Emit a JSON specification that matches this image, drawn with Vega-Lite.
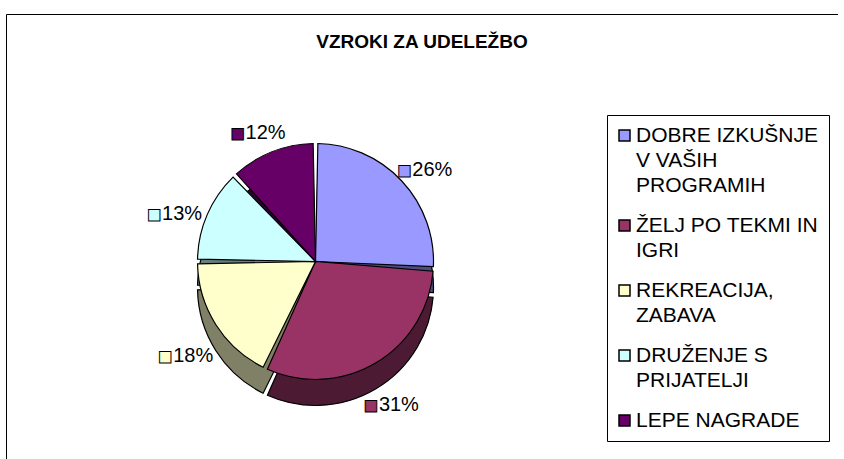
{
  "$schema": "https://vega.github.io/schema/vega-lite/v6.json",
  "width": 832,
  "height": 450,
  "autosize": {"type": "none"},
  "padding": {"left": 6, "top": 14, "right": 0, "bottom": 0},
  "background": "#ffffff",
  "view": {"stroke": "#000000", "strokeWidth": 1},
  "title": {"text": "VZROKI ZA UDELEŽBO", "font": "Liberation Sans", "fontSize": 19, "fontWeight": "bold", "color": "#000000", "offset": -38, "anchor": "middle"},
  "data": {
    "values": [
      {"k": "DOBRE IZKUŠNJE V VAŠIH PROGRAMIH", "v": 26, "o": 1, "lab": "26%"},
      {"k": "ŽELJ PO TEKMI IN IGRI", "v": 31, "o": 2, "lab": "31%"},
      {"k": "REKREACIJA, ZABAVA", "v": 18, "o": 3, "lab": "18%"},
      {"k": "DRUŽENJE S PRIJATELJI", "v": 13, "o": 4, "lab": "13%"},
      {"k": "LEPE NAGRADE", "v": 12, "o": 5, "lab": "12%"}
    ]
  },
  "layer": [
    {
      "mark": {"type": "arc", "outerRadius": 118, "padAngle": 0.04, "stroke": "#000000", "strokeWidth": 1.2, "x": {"expr": "width*0.372"}, "y": {"expr": "height*0.55+26"}},
      "encoding": {
        "theta": {"field": "v", "type": "quantitative", "stack": true},
        "order": {"field": "o", "type": "quantitative"},
        "fill": {"field": "o", "type": "nominal", "legend": null,
          "scale": {"domain": [1, 2, 3, 4, 5],
                    "range": ["#4d4d80", "#4d1a33", "#808066", "#668080", "#330033"]}}
      }
    },
    {
      "mark": {"type": "arc", "outerRadius": 118, "padAngle": 0.04, "stroke": "#000000", "strokeWidth": 1.2, "opacity": 1, "x": {"expr": "width*0.372"}, "y": {"expr": "height*0.55"}},
      "encoding": {
        "theta": {"field": "v", "type": "quantitative", "stack": true},
        "order": {"field": "o", "type": "quantitative"},
        "color": {"field": "k", "type": "nominal",
          "scale": {"domain": ["DOBRE IZKUŠNJE V VAŠIH PROGRAMIH", "ŽELJ PO TEKMI IN IGRI", "REKREACIJA, ZABAVA", "DRUŽENJE S PRIJATELJI", "LEPE NAGRADE"],
                    "range": ["#9999ff", "#993366", "#ffffcc", "#ccffff", "#660066"]},
          "legend": {
            "orient": "none", "legendX": 601, "legendY": 101, "title": null,
            "strokeColor": "#000000", "padding": 10,
            "symbolType": "square", "symbolSize": 121, "symbolStrokeColor": "#000000", "symbolStrokeWidth": 1.5, "symbolOpacity": 1,
            "symbolOffset": -3,
            "labelFont": "Liberation Sans", "labelFontSize": 21, "labelColor": "#000000", "labelLimit": 400, "labelOffset": 1,
            "rowPadding": 18,
            "labelExpr": "datum.label == 'DOBRE IZKUŠNJE V VAŠIH PROGRAMIH' ? ['DOBRE IZKUŠNJE', 'V VAŠIH', 'PROGRAMIH'] : datum.label == 'ŽELJ PO TEKMI IN IGRI' ? ['ŽELJ PO TEKMI IN', 'IGRI'] : datum.label == 'REKREACIJA, ZABAVA' ? ['REKREACIJA,', 'ZABAVA'] : datum.label == 'DRUŽENJE S PRIJATELJI' ? ['DRUŽENJE S', 'PRIJATELJI'] : datum.label",
            "encode": {"labels": {"update": {"lineHeight": {"value": 25}}}}
          }
        }
      }
    },
    {
      "mark": {"type": "text", "radius": 152, "font": "DejaVu Sans", "fontSize": 15, "align": "center", "baseline": "middle", "dx": -22, "stroke": "#000000", "strokeWidth": 1, "x": {"expr": "width*0.372"}, "y": {"expr": "height*0.55+13"}},
      "encoding": {
        "theta": {"field": "v", "type": "quantitative", "stack": true},
        "order": {"field": "o", "type": "quantitative"},
        "color": {"field": "k", "type": "nominal"},
        "text": {"value": "■"}
      }
    },
    {
      "mark": {"type": "text", "radius": 152, "font": "Liberation Sans", "fontSize": 20, "align": "left", "baseline": "middle", "dx": -14, "color": "#000000", "x": {"expr": "width*0.372"}, "y": {"expr": "height*0.55+13"}},
      "encoding": {
        "theta": {"field": "v", "type": "quantitative", "stack": true},
        "order": {"field": "o", "type": "quantitative"},
        "text": {"field": "lab", "type": "nominal"}
      }
    }
  ]
}
